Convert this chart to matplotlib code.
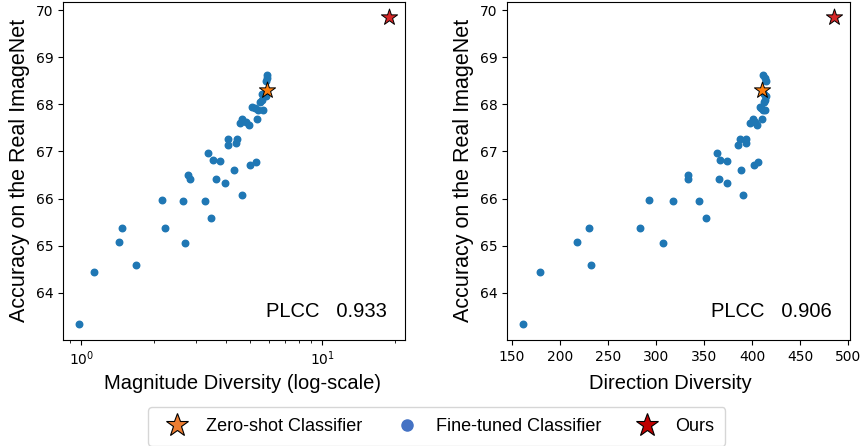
import numpy as np
import matplotlib
matplotlib.use("Agg")
import matplotlib.pyplot as plt
from matplotlib.lines import Line2D

# accuracy of the fine-tuned classifiers (same models in both panels)
acc = [63.33, 64.44, 64.59, 65.09, 65.38, 65.38, 65.06, 65.98, 65.94, 65.94,
       65.59, 66.07, 66.51, 66.41, 66.41, 66.33, 66.60, 66.96, 66.82, 66.79,
       66.71, 66.78, 67.27, 67.13, 67.27, 67.17, 67.60, 67.68, 67.62, 67.56,
       67.68, 67.95, 67.92, 67.88, 67.87, 68.04, 68.09, 68.21, 68.18, 68.62,
       68.56, 68.50]
mag_div = [0.975, 1.125, 1.69, 1.43, 1.48, 2.22, 2.69, 2.17, 2.64, 3.25,
           3.46, 4.64, 2.78, 2.84, 3.62, 3.96, 4.29, 3.37, 3.51, 3.77,
           5.04, 5.31, 4.07, 4.05, 4.41, 4.39, 4.54, 4.66, 4.82, 4.98,
           5.37, 5.12, 5.24, 5.39, 5.70, 5.50, 5.64, 5.60, 5.82, 5.91,
           5.91, 5.87]
dir_div = [161.1, 179.2, 232.3, 218.1, 230.6, 283.0, 307.3, 293.1, 317.1, 344.5,
           351.5, 390.3, 333.0, 333.0, 365.0, 373.3, 388.2, 363.2, 366.0, 373.9,
           401.8, 406.3, 387.2, 385.1, 393.1, 393.8, 397.6, 401.0, 402.8, 404.9,
           410.1, 408.0, 409.1, 410.8, 413.2, 412.5, 413.2, 412.2, 413.9, 411.5,
           413.2, 413.9]

zs_acc = 68.31
zs_mag = 5.90
zs_dir = 409.8

ours_acc = 69.85
ours_mag = 18.97
ours_dir = 485.1

plcc = ["0.933", "0.906"]

fig = plt.figure(figsize=(8.63, 4.46), dpi=100)
ax1 = fig.add_axes([0.073, 0.238, 0.396, 0.758])
ax2 = fig.add_axes([0.5875, 0.238, 0.397, 0.758])

lab_font = "Liberation Sans"

for ax, xs, zx, ox, xlabel, p, lx in [(ax1, mag_div, zs_mag, ours_mag, "Magnitude Diversity (log-scale)", plcc[0], 0.525),
                                      (ax2, dir_div, zs_dir, ours_dir, "Direction Diversity", plcc[1], 0.477)]:
    ax.scatter(xs, acc, s=22, color="tab:blue", zorder=2)
    ax.scatter([zx], [zs_acc], marker="*", s=150, color="tab:orange", edgecolors="black", linewidths=0.7, zorder=3)
    ax.scatter([ox], [ours_acc], marker="*", s=150, color="tab:red", edgecolors="black", linewidths=0.7, zorder=3)
    ax.set_xlabel(xlabel, fontsize=14.5, family=lab_font)
    ax.xaxis.set_label_coords(lx, -0.1)
    ax.set_ylabel("Accuracy on the Real ImageNet", fontsize=15.5, family=lab_font)
    ax.tick_params(labelsize=10)
    ax.text(0.947, 0.069, "PLCC   " + p, transform=ax.transAxes, ha="right", va="baseline",
            fontsize=14.5, family=lab_font)

ax1.set_xscale("log")

handles = [
    Line2D([], [], marker="*", linestyle="none", markersize=17, markerfacecolor="#ED7D31",
           markeredgecolor="black", markeredgewidth=0.8, label="Zero-shot Classifier"),
    Line2D([], [], marker="o", linestyle="none", markersize=8, markerfacecolor="#4472C4",
           markeredgecolor="#4472C4", label="Fine-tuned Classifier"),
    Line2D([], [], marker="*", linestyle="none", markersize=17, markerfacecolor="#C00000",
           markeredgecolor="black", markeredgewidth=0.8, label="Ours"),
]
fig.legend(handles=handles, loc="upper center", bbox_to_anchor=(0.506, 0.0874), ncol=3,
           prop={"family": lab_font, "size": 13}, frameon=True, fancybox=True,
           handletextpad=0.6, columnspacing=1.5, borderpad=0.6, borderaxespad=0)

fig.savefig("out.png", dpi=100)
